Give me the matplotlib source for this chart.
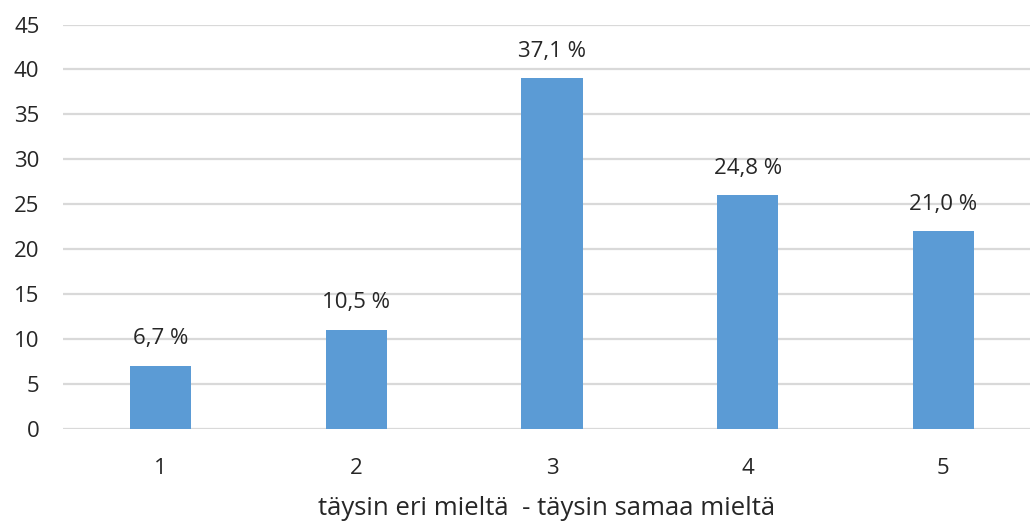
import numpy as np
import matplotlib.pyplot as plt

plt.rcParams['font.family'] = ['Open Sans', 'DejaVu Sans']

# answers on a 1-5 scale (counts) and their share of all answers
categories = ['1', '2', '3', '4', '5']
counts = [7, 11, 39, 26, 22]
percents = np.array(counts) / sum(counts) * 100
y_ticks = [0, 5, 10, 15, 20, 25, 30, 35, 40, 45]
x_title = 'täysin eri mieltä  - täysin samaa mieltä'

fig = plt.figure(figsize=(10.3, 5.22), dpi=100)
ax = fig.add_axes([63 / 1030, 93 / 522, 967 / 1030, 404.5 / 522])

x = np.arange(len(categories))
bars = ax.bar(x, counts, width=0.312, color='#5b9bd5', zorder=3)

for b, p in zip(bars, percents):
    ax.annotate(f'{p:.1f} %'.replace('.', ','),
                (b.get_x() + b.get_width() / 2, b.get_height()),
                xytext=(0, 12), textcoords='offset points',
                ha='center', va='bottom', fontsize=16, color='#262626')

ax.set_xlim(-0.5, 4.5 - 11 / 195.5)
ax.set_ylim(0, 45)
ax.set_yticks(y_ticks)
ax.set_xticks(x)
ax.set_xticklabels(categories)
ax.yaxis.grid(True, color='#d9d9d9', linewidth=1.6, zorder=0)
ax.tick_params(axis='both', length=0, labelsize=16, colors='#262626')
ax.tick_params(axis='y', pad=17)
ax.tick_params(axis='x', pad=21)
for s in ax.spines.values():
    s.set_visible(False)

ax.set_xlabel(x_title, fontsize=18.5, color='#262626', labelpad=12)

fig.savefig('out.png', dpi=100)
